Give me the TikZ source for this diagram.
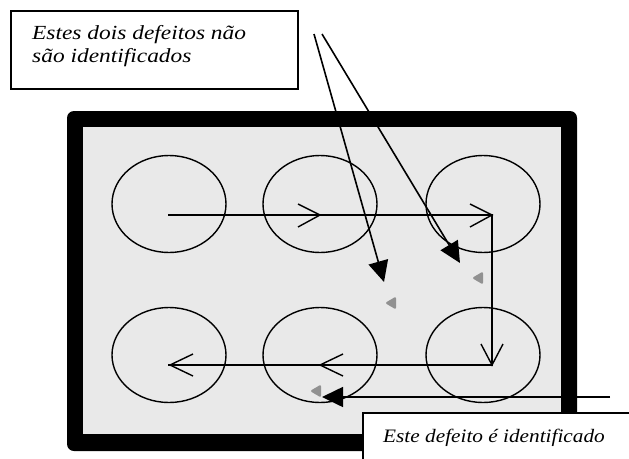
\documentclass[tikz,border=0pt]{standalone}
\usepackage{fontspec}
\setmainfont{Liberation Serif}
\newfontfamily\topfont{Liberation Serif}[FakeStretch=1.17]
\newfontfamily\botfont{Liberation Serif}[FakeStretch=1.12]
\usetikzlibrary{arrows.meta}
\definecolor{bgray}{RGB}{233,233,233}
\definecolor{defgray}{RGB}{145,145,145}
\begin{document}
\begin{tikzpicture}[x=1pt,y=-1pt,
  ring/.style={draw=black,line width=1.4pt},
  flow/.style={draw=black,line width=1.6pt},
  chev/.style={draw=black,line width=1.4pt},
  callout/.style={draw=black,line width=1.6pt,-{Triangle[length=21pt,width=20pt]}},
  defect/.style={fill=defgray,rounded corners=2pt},
  labelbox/.style={draw=black,fill=white,line width=1.6pt},
  toptext/.style={anchor=base west,inner sep=0pt,font=\topfont\itshape\fontsize{20}{23}\selectfont},
  bottext/.style={anchor=base west,inner sep=0pt,font=\botfont\itshape\fontsize{19}{22}\selectfont}]
\useasboundingbox (0,0) rectangle (629,458);
% frame
\fill[black,rounded corners=7pt] (67,111) rectangle (577,451);
\fill[bgray] (83,127) rectangle (561,434);
% ellipses
\coordinate (e1) at (169,204);
\coordinate (e2) at (320,204);
\coordinate (e3) at (483,204);
\coordinate (e4) at (169,355);
\coordinate (e5) at (320,355);
\coordinate (e6) at (483,355);
\foreach \e in {e1,e2,e3}{\draw[ring] (\e) ellipse [x radius=57, y radius=48.5];}
\foreach \e in {e4,e5,e6}{\draw[ring] (\e) ellipse [x radius=57, y radius=47.5];}
% path
\coordinate (p0) at (168,215);
\coordinate (p1) at (492,215);
\coordinate (p2) at (492,365);
\coordinate (p3) at (168,365);
\draw[flow] (p0) -- (p1) -- (p2) -- (p3);
% chevrons
\draw[chev] (298,204) -- (320,215) -- (298,227);
\draw[chev] (470,204) -- (p1) -- (470,227);
\draw[chev] (481,344) -- (p2) -- (503,344);
\draw[chev] (343,354) -- (320,365) -- (343,376);
\draw[chev] (193,354) -- (170,365) -- (193,376);
% defects
\coordinate (d1) at (316,391);
\coordinate (d2) at (391,303);
\coordinate (d3) at (478,278);
\foreach \d in {d1,d2,d3}{\fill[defect] ([xshift=-6pt]\d) -- ([xshift=5pt,yshift=6.5pt]\d) -- ([xshift=5pt,yshift=-6.5pt]\d) -- cycle;}
% top label
\draw[labelbox] (11,11) rectangle (298,89);
\node[toptext] (t1) at (32,39) {Estes dois defeitos não};
\node[toptext] (t1b) at (32,62) {são identificados};
% callouts from top label
\coordinate (s1) at (314,34);
\coordinate (s2) at (322,34);
\coordinate (h1) at (384,282);
\coordinate (h2) at (460,263);
\draw[callout] (s1) -- (h1);
\draw[callout] (s2) -- (h2);
% bottom callout
\coordinate (s3) at (610,397);
\coordinate (h3) at (322,397);
\draw[callout] (s3) -- (h3);
% bottom label
\draw[labelbox] (363,413) rectangle (660,480);
\node[bottext] (t2) at (383,442) {Este defeito é identificado};
\end{tikzpicture}
\end{document}
